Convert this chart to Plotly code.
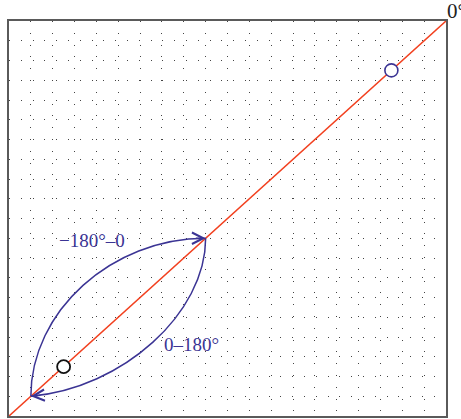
import plotly.graph_objects as go

# Axis extent (both axes share the same 0..20 scale, diagonal is y = x)
axis_range = [0, 20]
diag_x = [0, 20]
diag_y = [0, 20]

# Lens end points and Bezier control points (data units)
upper_ctrl_x = [1, 1, 4.7, 9]
upper_ctrl_y = [1, 5.3, 9, 9]
lower_ctrl_x = [9, 9, 5.2, 1]
lower_ctrl_y = [9, 5.2, 1.4, 1]

# Marked states on the diagonal
blue_pt_x = [17.5]
blue_pt_y = [17.5]
black_pt_x = [2.5]
black_pt_y = [2.5]

# Labels
label_texts = ["\u2212180\u00b0\u20130", "0\u2013180\u00b0"]
label_x = [3.78, 8.33]
label_y = [8.9, 3.64]
corner_text = "0\u00b0"

BLUE = "#3b3494"
RED = "#f2401f"
FRAME = "#5a5a5a"
SERIF = "Liberation Serif, Times New Roman, serif"


def bezier_path(xs, ys):
    return (f"M {xs[0]},{ys[0]} C {xs[1]},{ys[1]} "
            f"{xs[2]},{ys[2]} {xs[3]},{ys[3]}")


fig = go.Figure()

fig.add_trace(go.Scatter(
    x=diag_x, y=diag_y, mode="lines",
    line=dict(color=RED, width=1.5), hoverinfo="skip",
))
fig.add_trace(go.Scatter(
    x=blue_pt_x, y=blue_pt_y, mode="markers",
    marker=dict(size=13, color="white", line=dict(color=BLUE, width=1.6)),
    hoverinfo="skip",
))
fig.add_trace(go.Scatter(
    x=black_pt_x, y=black_pt_y, mode="markers",
    marker=dict(size=13, color="white", line=dict(color="#111111", width=1.8)),
    hoverinfo="skip",
))

for cx, cy in ((upper_ctrl_x, upper_ctrl_y), (lower_ctrl_x, lower_ctrl_y)):
    fig.add_shape(type="path", xref="x", yref="y",
                  path=bezier_path(cx, cy),
                  line=dict(color=BLUE, width=1.5))

# Open chevron arrowheads at the ends of each branch
for cx, cy in ((upper_ctrl_x, upper_ctrl_y), (lower_ctrl_x, lower_ctrl_y)):
    hx, hy = cx[3], cy[3]
    tx = hx + (cx[2] - hx) * 0.12
    ty = hy + (cy[2] - hy) * 0.12
    fig.add_annotation(
        x=hx, y=hy, ax=tx, ay=ty, xref="x", yref="y", axref="x", ayref="y",
        text="", showarrow=True, arrowhead=5, arrowsize=1.7,
        arrowwidth=1.3, arrowcolor=BLUE, standoff=0,
    )

for t, x, y in zip(label_texts, label_x, label_y):
    fig.add_annotation(x=x, y=y, xref="x", yref="y", text=t, showarrow=False,
                       font=dict(family=SERIF, size=19, color=BLUE))

fig.add_annotation(x=axis_range[1], y=axis_range[1], xref="x", yref="y",
                   text=corner_text, showarrow=False, xanchor="left",
                   yanchor="bottom", xshift=-1, yshift=-4,
                   font=dict(family=SERIF, size=21, color="#222222"))

grid_common = dict(
    range=axis_range, dtick=1, showgrid=True, gridcolor="#444444",
    gridwidth=1, griddash="1px,10.8px", zeroline=False,
    showticklabels=False, ticks="", showline=True, mirror=True,
    linecolor=FRAME, linewidth=2, fixedrange=True,
)

fig.update_layout(
    width=461, height=419,
    margin=dict(l=9, r=15, t=21, b=3),
    paper_bgcolor="white", plot_bgcolor="white",
    showlegend=False,
    xaxis=grid_common,
    yaxis=grid_common,
)

fig.write_html("out.html")
